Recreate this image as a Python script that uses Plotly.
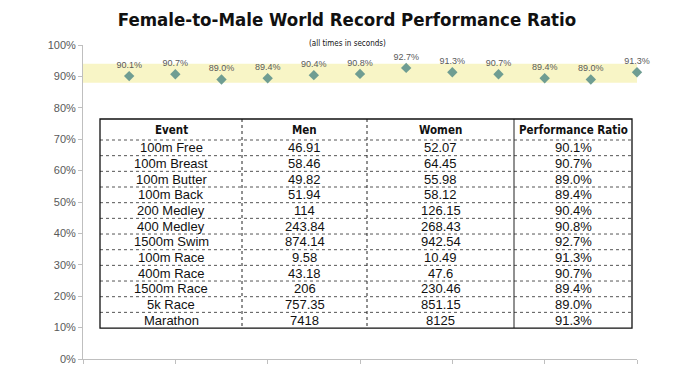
import plotly.graph_objects as go

events = ["100m Free", "100m Breast", "100m Butter", "100m Back", "200 Medley", "400 Medley",
          "1500m Swim", "100m Race", "400m Race", "1500m Race", "5k Race", "Marathon"]
men = [46.91, 58.46, 49.82, 51.94, 114, 243.84, 874.14, 9.58, 43.18, 206, 757.35, 7418]
women = [52.07, 64.45, 55.98, 58.12, 126.15, 268.43, 942.54, 10.49, 47.6, 230.46, 851.15, 8125]
ratio = [0.901, 0.907, 0.890, 0.894, 0.904, 0.908, 0.927, 0.913, 0.907, 0.894, 0.890, 0.913]
headers = ["Event", "Men", "Women", "Performance Ratio"]
y_ticks = [i / 10 for i in range(11)]
band = [0.88, 0.94]

W, H = 681, 390
L, R, T, B = 83, 44, 45, 31
pw, ph = W - L - R, H - T - B

def px_x(x):
    return (x - L) / pw

def px_y(y):
    return (H - B - y) / ph

xs = list(range(1, len(ratio) + 1))
COND = "DejaVu Sans Condensed"

fig = go.Figure()
fig.add_shape(type="rect", xref="x", yref="y", x0=0, x1=12.17, y0=band[0], y1=band[1],
              fillcolor="#f8f5c6", line_width=0, layer="below")
fig.add_trace(go.Scatter(
    x=xs, y=ratio, mode="markers+text",
    marker=dict(symbol="diamond", size=8, color="#6f9d92"),
    text=[f"{r*100:.1f}%" for r in ratio], textposition="top center",
    textfont=dict(family="Liberation Sans", size=9, color="#5a5a5a"),
    cliponaxis=False, showlegend=False, hoverinfo="skip"))

# table (text cells + grid)
col_px = [100, 242, 367, 514, 632]
top_px, head_h, row_h = 119, 21, 15.67
bot_px = top_px + head_h + row_h * len(events)
fmt = lambda v: f"{v:g}"
columns = [events, [fmt(v) for v in men], [fmt(v) for v in women], [f"{r*100:.1f}%" for r in ratio]]

for j, h in enumerate(headers):
    cx = (col_px[j] + col_px[j + 1]) / 2
    fig.add_annotation(text=f"<b>{h}</b>", xref="paper", yref="paper", x=px_x(cx),
                       y=px_y(top_px + head_h / 2), showarrow=False, xanchor="center", yanchor="middle",
                       font=dict(family=COND, size=11.5, color="#111"))
    for i, v in enumerate(columns[j]):
        fig.add_annotation(text=v, xref="paper", yref="paper", x=px_x(cx),
                           y=px_y(top_px + head_h + row_h * (i + 0.5)), showarrow=False,
                           xanchor="center", yanchor="middle",
                           font=dict(family="Liberation Sans", size=13, color="#111"))

shapes = []
for i in range(len(events)):
    yy = top_px + head_h + row_h * i
    shapes.append(dict(type="line", xref="paper", yref="paper", x0=px_x(col_px[0]), x1=px_x(col_px[-1]),
                       y0=px_y(yy), y1=px_y(yy), line=dict(color="#555", width=1, dash="dot")))
for j, c in enumerate(col_px[1:-1]):
    shapes.append(dict(type="line", xref="paper", yref="paper", x0=px_x(c), x1=px_x(c),
                       y0=px_y(top_px), y1=px_y(bot_px),
                       line=dict(color="#222", width=1, dash="dot" if j < 2 else "solid")))
shapes.append(dict(type="rect", xref="paper", yref="paper", x0=px_x(col_px[0]), x1=px_x(col_px[-1]),
                   y0=px_y(bot_px), y1=px_y(top_px), line=dict(color="#111", width=1.3)))
for s in shapes:
    fig.add_shape(**s)

fig.add_annotation(text="(all times in seconds)", xref="paper", yref="paper",
                   x=px_x(347), y=px_y(37), showarrow=False,
                   font=dict(family=COND, size=8, color="#111"))

fig.update_layout(
    width=W, height=H, margin=dict(l=L, r=R, t=T, b=B),
    paper_bgcolor="white", plot_bgcolor="white",
    title=dict(text="<b>Female-to-Male World Record Performance Ratio</b>", x=347 / W, xanchor="center",
               y=1 - 20 / H, yanchor="middle",
               font=dict(family=COND, size=18.5, color="#111")),
    xaxis=dict(range=[0, 12], showgrid=False, zeroline=False, showline=True, linecolor="#bfbfbf",
               linewidth=1, ticks="outside", ticklen=4, tickcolor="#bfbfbf", dtick=2, tick0=0,
               showticklabels=False, fixedrange=True),
    yaxis=dict(range=[0, 1], showgrid=False, zeroline=False, showline=True, linecolor="#bfbfbf",
               linewidth=1, ticks="outside", ticklen=4, tickcolor="#bfbfbf",
               tickvals=y_ticks, tickformat=".0%", fixedrange=True,
               tickfont=dict(family="Liberation Sans", size=11, color="#595959")),
)

fig.write_html("out.html", config={"displayModeBar": False},
               post_script="document.body.style.margin='0';document.body.style.overflow='hidden';")
